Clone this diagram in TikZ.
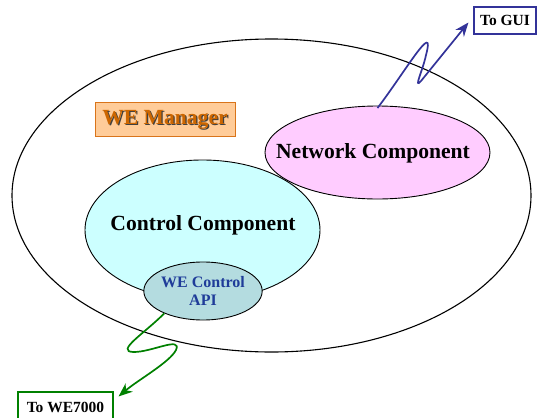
\documentclass[tikz,border=0pt]{standalone}
\usepackage{fontspec}
\setmainfont{Liberation Serif}
\usetikzlibrary{shapes.geometric,arrows.meta}
\definecolor{mgrfill}{HTML}{FFCC99}
\definecolor{mgrline}{HTML}{D9741A}
\definecolor{mgrtext}{HTML}{CC6600}
\definecolor{netfill}{HTML}{FFCCFF}
\definecolor{ctlfill}{HTML}{CCFFFF}
\definecolor{apifill}{HTML}{B4DCE0}
\definecolor{apitext}{HTML}{1F3C99}
\definecolor{guiblue}{HTML}{333399}
\definecolor{wegreen}{HTML}{008000}
\tikzset{
  blob/.style={ellipse, draw=black, line width=0.9pt, inner sep=0pt},
  bigtext/.style={font=\fontsize{21.6}{24}\selectfont\bfseries},
  portbox/.style={draw, line width=1.1pt, fill=white, inner sep=0pt,
    font=\fontsize{15.5}{17}\selectfont\bfseries},
  wiggle/.style={line width=1.7pt, -{Stealth[length=14pt,width=11pt]}}
}
\begin{document}
\begin{tikzpicture}[x=1pt,y=-1pt]
\useasboundingbox (0,0) rectangle (542,418);
\clip (0,0) rectangle (542,418);

% system boundary
\node[blob, line width=1.1pt, minimum width=519pt, minimum height=313pt] (sys) at (271.5,195.5) {};

% manager label with drop shadow
\node[draw=mgrline, fill=mgrfill, line width=1pt, minimum width=140pt, minimum height=34pt, inner sep=0pt] (mgr) at (165,119) {};
\node[bigtext, text=black!75, inner sep=0pt] (mgrshadow) at (166.2,121.2) {WE Manager};
\node[bigtext, text=mgrtext, inner sep=0pt] (mgrlabel) at (165,120) {WE Manager};

% components
\node[blob, fill=netfill, minimum width=225pt, minimum height=93pt] (net) at (377.5,152.5) {};
\node[bigtext] (netlabel) at (373,153) {Network Component};

\node[blob, fill=ctlfill, minimum width=235pt, minimum height=140pt] (ctl) at (202.5,230) {};
\node[bigtext] (ctllabel) at (203,225) {Control Component};

\node[blob, fill=apifill, minimum width=118pt, minimum height=58pt, align=center,
  font=\fontsize{16}{18}\selectfont\bfseries, text=apitext] (api) at (203,291) {WE Control\\API};

% external ports
\node[portbox, draw=guiblue, minimum width=62pt, minimum height=27pt] (gui) at (505,20.5) {To GUI};
\node[portbox, draw=wegreen, minimum width=95pt, minimum height=27pt, text depth=0pt] (we7) at (65.5,405.5) {\raisebox{-4pt}{To WE7000}};

% links to the outside
\coordinate (gtip) at ([xshift=-5pt,yshift=-2pt]gui.west);
\draw[wiggle, guiblue] ([shift={(0,2.5)}]net.north)
  .. controls (405,72) and (436,18) .. (426,55)
  .. controls (423,70) and (413,90) .. (421,81)
  -- (gtip);

\coordinate (wtip) at ([shift={(5,5)}]we7.north east);
\draw[wiggle, wegreen] (api.210)
  .. controls (145,333) and (114,352) .. (134,352)
  .. controls (152,352) and (182,336) .. (176,350)
  .. controls (170,362) and (138,380) .. (wtip);
\end{tikzpicture}
\end{document}
